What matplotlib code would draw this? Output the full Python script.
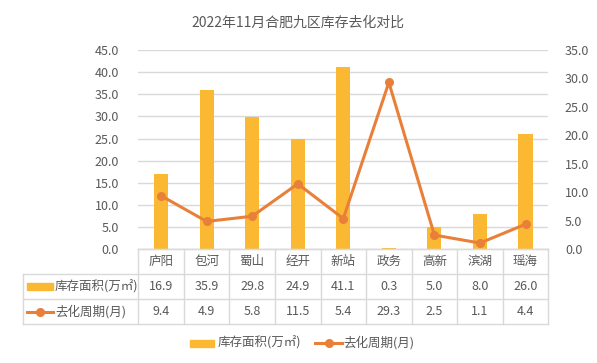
import matplotlib
matplotlib.use("Agg")
import matplotlib.pyplot as plt
from matplotlib.transforms import blended_transform_factory
from matplotlib.patches import Rectangle
from matplotlib.lines import Line2D

plt.rcParams['font.family'] = ['Noto Sans CJK SC', 'DejaVu Sans']

categories = ['庐阳', '包河', '蜀山', '经开', '新站', '政务', '高新', '滨湖', '瑶海']
stock = [16.9, 35.9, 29.8, 24.9, 41.1, 0.3, 5.0, 8.0, 26.0]
cycle = [9.4, 4.9, 5.8, 11.5, 5.4, 29.3, 2.5, 1.1, 4.4]
bar_name = '库存面积(万㎡)'
line_name = '去化周期(月)'
title = '2022年11月合肥九区库存去化对比'

BAR_C = '#FBB933'
LINE_C = '#E8803A'
TXT = '#595959'
GRID = '#D9D9D9'

W, H = 597, 363
fig = plt.figure(figsize=(W / 100, H / 100), dpi=100)
fig.patch.set_facecolor('white')

L, R, T, B = 138.3, 548.3, 50, 249.3
ax = fig.add_axes([L / W, 1 - B / H, (R - L) / W, (B - T) / H])
ax2 = ax.twinx()

n = len(categories)
x = list(range(n))
ax.bar(x, stock, width=0.31, color=BAR_C, zorder=2)
ax.set_xlim(-0.5, n - 0.5)
ax.set_ylim(0, 45)
ax.set_yticks([i * 5 for i in range(10)])
ax.set_yticklabels([f'{i*5:.1f}' for i in range(10)])
ax.yaxis.grid(True, color=GRID, linewidth=1)
ax.set_axisbelow(True)
ax.set_xticks([])

ax2.plot(x, cycle, color=LINE_C, linewidth=2.2, marker='o', markersize=5.5, zorder=3)
ax2.set_ylim(0, 35)
ax2.set_yticks([i * 5 for i in range(8)])
ax2.set_yticklabels([f'{i*5:.1f}' for i in range(8)])

for a in (ax, ax2):
    for s in ('top', 'left', 'right'):
        a.spines[s].set_visible(False)
    a.spines['bottom'].set_color(GRID)
    a.tick_params(axis='y', length=0, labelsize=9, labelcolor=TXT)
ax.tick_params(axis='y', pad=14)
ax2.tick_params(axis='y', pad=12)

# Table
ph = B - T
def ay(py):
    return (B - py) / ph

tr = blended_transform_factory(ax.transData, ax.transAxes)
rows = [B, 274.3, 299.3, 324.3]
# horizontal lines
ax.add_line(Line2D([-0.5, n - 0.5], [ay(rows[0])] * 2, transform=tr, color=GRID, lw=1, clip_on=False))
for ry in rows[1:]:
    fx0 = 22.7 / W
    fx1 = R / W
    fig.add_artist(Line2D([fx0, fx1], [1 - ry / H] * 2, color=GRID, lw=1))
# vertical lines
for i in range(n + 1):
    ax.add_line(Line2D([i - 0.5, i - 0.5], [ay(rows[0]), ay(rows[3])], transform=tr,
                       color=GRID, lw=1, clip_on=False))
fig.add_artist(Line2D([22.7 / W] * 2, [1 - rows[1] / H, 1 - rows[3] / H], color=GRID, lw=1))

for i in range(n):
    ax.text(i, ay((rows[0] + rows[1]) / 2), categories[i], transform=tr, ha='center', va='center',
            fontsize=9, color=TXT, clip_on=False)
    ax.text(i, ay((rows[1] + rows[2]) / 2), f'{stock[i]:.1f}', transform=tr, ha='center', va='center',
            fontsize=9, color=TXT, clip_on=False)
    ax.text(i, ay((rows[2] + rows[3]) / 2), f'{cycle[i]:.1f}', transform=tr, ha='center', va='center',
            fontsize=9, color=TXT, clip_on=False)

# table legend keys
y1 = (rows[1] + rows[2]) / 2
y2 = (rows[2] + rows[3]) / 2
fig.add_artist(Rectangle((27 / W, 1 - (y1 + 3.5) / H), 26 / W, 7 / H, color=BAR_C))
fig.text(55 / W, 1 - y1 / H, bar_name, ha='left', va='center', fontsize=9, color=TXT)
fig.add_artist(Line2D([27 / W, 53 / W], [1 - y2 / H] * 2, color=LINE_C, lw=2.2))
fig.add_artist(Line2D([40 / W], [1 - y2 / H], color=LINE_C, marker='o', markersize=5.5))
fig.text(55 / W, 1 - y2 / H, line_name, ha='left', va='center', fontsize=9, color=TXT)

# bottom legend
ly = 343
fig.add_artist(Rectangle((190 / W, 1 - (ly + 3.5) / H), 24 / W, 7 / H, color=BAR_C))
fig.text(217.5 / W, 1 - ly / H, bar_name, ha='left', va='center', fontsize=9, color=TXT)
fig.add_artist(Line2D([315 / W, 342 / W], [1 - ly / H] * 2, color=LINE_C, lw=2.2))
fig.add_artist(Line2D([328.5 / W], [1 - ly / H], color=LINE_C, marker='o', markersize=5.5))
fig.text(343 / W, 1 - ly / H, line_name, ha='left', va='center', fontsize=9, color=TXT)

fig.text(298 / W, 1 - 23 / H, title, ha='center', va='center', fontsize=10, color=TXT)

fig.savefig('out.png', dpi=100, facecolor='white')
